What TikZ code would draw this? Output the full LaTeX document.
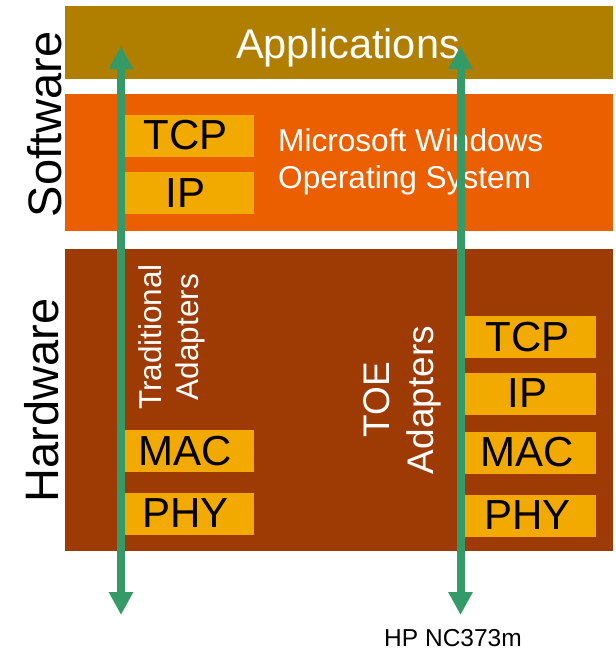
\documentclass[tikz,border=0pt]{standalone}
\usepackage{fontspec}
\setmainfont{Liberation Sans}
\usetikzlibrary{positioning,calc,arrows.meta}
\definecolor{appGold}{HTML}{B07F00}
\definecolor{osOrange}{HTML}{EB5F00}
\definecolor{hwBrown}{HTML}{9E3A04}
\definecolor{protoAmber}{HTML}{F2A900}
\definecolor{flowGreen}{HTML}{349A68}

\tikzset{
  layerbox/.style={anchor=north west, inner sep=0pt, outer sep=0pt},
  protobox/.style={fill=protoAmber, inner sep=0pt, outer sep=0pt,
    minimum width=137pt, minimum height=42pt,
    font=\fontsize{42}{48}\selectfont, text=black},
  sidetitle/.style={rotate=90, inner sep=0pt, font=\fontsize{47}{52}\selectfont},
  whitetext/.style={inner sep=0pt, text=white},
  flow/.style={draw=flowGreen, line width=8pt,
    {Triangle[width=23pt,length=23pt]}-{Triangle[width=23pt,length=23pt]}},
}

\begin{document}
\begin{tikzpicture}[x=1pt,y=-1pt]

\useasboundingbox (0,0) rectangle (616,651);

%% one unit = one pixel of the slide, y runs downwards

\def\xL{65}       % left edge of the layers
\def\wL{548}      % layer width
\def\xTrad{121}   % traditional adapter path
\def\xToe{460.5}  % TOE adapter path

% --- LAYERS ---
\node[layerbox, fill=appGold, minimum width=\wL pt, minimum height=73pt]
  (apps) at (\xL, 6) {};
\node[layerbox, fill=osOrange, minimum width=\wL pt, minimum height=137pt]
  (os) at (\xL, 94) {};
\node[layerbox, fill=hwBrown, minimum width=\wL pt, minimum height=302pt]
  (hw) at (\xL, 249) {};

% --- LAYER LABELS ---
\node[whitetext, anchor=base, font=\fontsize{41.5}{48}\selectfont]
  (appsText) at (348, 58) {Applications};
\node[whitetext, anchor=west, align=left, font=\fontsize{31.6}{37}\selectfont]
  (osText) at (278, 162) {Microsoft Windows\\Operating System};

\node[sidetitle] (swTitle) at (45, 124.5) {Software};
\node[sidetitle] (hwTitle) at (41.5, 400.5) {Hardware};

% --- ADAPTER LABELS ---
\node[whitetext, rotate=90, align=center, font=\fontsize{31.5}{37.5}\selectfont]
  (tradText) at (172, 337) {Traditional\\Adapters};
\node[whitetext, rotate=90, align=center, font=\fontsize{37}{44}\selectfont]
  (toeText) at (402, 400) {TOE\\Adapters};

% --- PROTOCOL BLOCKS: host stack ---
\node[protobox] (tcpHost) at (185.5, 135.5) {TCP};
\node[protobox] (ipHost)  at (185.5, 193)   {IP};
\node[protobox] (macTrad) at (185.5, 451)   {MAC};
\node[protobox] (phyTrad) at (185.5, 513.5) {PHY};

% --- PROTOCOL BLOCKS: TOE adapter ---
\node[protobox] (tcpToe) at (527.5, 337)   {TCP};
\node[protobox] (ipToe)  at (527.5, 393.5) {IP};
\node[protobox] (macToe) at (527.5, 452.5) {MAC};
\node[protobox] (phyToe) at (527.5, 515.5) {PHY};

% --- DATA PATHS ---
\coordinate (tradTop) at (\xTrad, 46);
\coordinate (tradBot) at (\xTrad, 615);
\coordinate (toeTop)  at (\xToe, 46);
\coordinate (toeBot)  at (\xToe, 615);

\draw[flow] (tradTop) -- (tradBot);
\draw[flow] (toeTop) -- (toeBot);

% --- PRODUCT ---
\node[inner sep=0pt, anchor=base, font=\fontsize{24.5}{30}\selectfont]
  (nicName) at (453, 646.5) {HP NC373m};

\end{tikzpicture}
\end{document}
